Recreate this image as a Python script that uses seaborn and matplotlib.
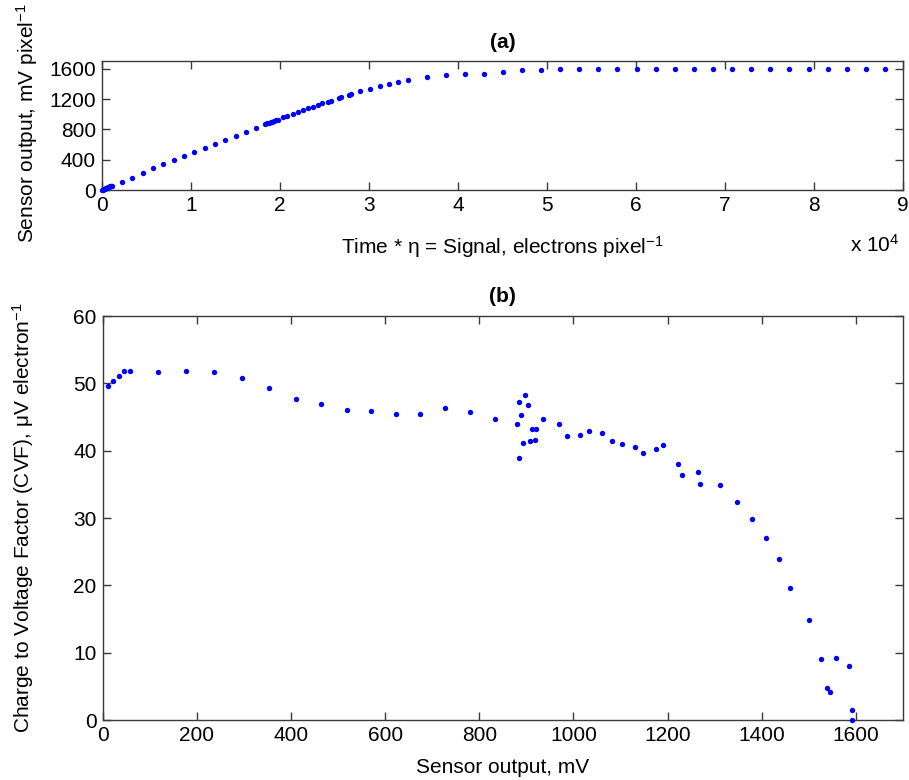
import numpy as np
import pandas as pd
import matplotlib
matplotlib.use("Agg")
import matplotlib.pyplot as plt
from matplotlib.ticker import FuncFormatter
import seaborn as sns

# ---- Panel (a): signal (electrons/pixel) vs sensor output (mV/pixel)
signal_e = [0, 100, 200, 300, 400, 500, 600, 700, 800, 900, 1000, 1100,
            2251, 3377, 4578, 5741, 6904, 8068, 9231, 10356, 11520, 12683,
            13846, 15009, 16173, 17336,
            18350, 18550, 18750, 18950, 19150, 19350, 19550, 19750,
            20375, 20826, 21501, 22026, 22589, 23152, 23677, 24278, 24728,
            25441, 25704, 26642, 26867, 27767, 27955, 28968, 30094, 31182,
            32195, 33283, 34334, 36473, 38649, 40788, 42927, 45079,
            47185, 49325, 51464, 53604, 55743, 57883, 60060, 62200, 64339,
            66479, 68618, 70796, 72935, 75075, 77215, 79392, 81531, 83671,
            85811, 87950]
output_mv = [0, 5, 10, 16, 20, 26, 31, 37, 42, 47, 52, 57,
             101, 163, 220, 287, 339, 397, 450, 507, 560, 613,
             666, 718, 771, 824,
             873, 881, 889, 896, 904, 911, 919, 926,
             961, 979, 1009, 1031, 1053, 1080, 1102, 1128, 1146,
             1168, 1181, 1217, 1225, 1261, 1265, 1305, 1340, 1375,
             1406, 1432, 1459, 1494, 1521, 1534, 1540, 1556,
             1582, 1592, 1596, 1596, 1596, 1596, 1596, 1596, 1596,
             1596, 1596, 1596, 1596, 1596, 1596, 1596, 1596, 1596,
             1596, 1596]

# ---- Panel (b): sensor output (mV) vs CVF (uV/electron)
sensor_mv = [10.6, 21.8, 33.9, 45.2, 57.9, 118, 177, 237, 296, 354, 410, 464,
             518, 570.5, 623.5, 674.4, 728, 781, 833.5,
             879.4, 884.4, 883.6, 889.3, 892.9, 897.8, 904.2, 908.4, 912,
             917.6, 921.2, 934.6, 968.5, 985.5, 1013.8, 1033.5, 1059.6,
             1082.9, 1103.5, 1131, 1147.4, 1175.6, 1189.8, 1222.3, 1230.7,
             1264.7, 1269.6, 1311, 1346.5, 1379, 1410, 1437, 1461, 1500,
             1525, 1557, 1585, 1539, 1545, 1592, 1592]
cvf_uv = [49.6, 50.3, 51.1, 51.9, 51.9, 51.75, 51.9, 51.7, 50.8, 49.3, 47.7,
          46.95, 46.1, 45.9, 45.4, 45.4, 46.3, 45.7, 44.7,
          44.0, 38.9, 47.3, 45.3, 41.2, 48.25, 46.8, 41.4, 43.2,
          41.6, 43.2, 44.7, 43.9, 42.2, 42.35, 42.9, 42.6,
          41.5, 41.06, 40.6, 39.6, 40.2, 40.8, 38.0, 36.45,
          36.9, 35.0, 34.96, 32.4, 29.9, 27.0, 23.9, 19.6, 14.9,
          9.06, 9.2, 8.0, 4.7, 4.1, 1.44, 0.0]

df_a = pd.DataFrame({"signal": signal_e, "output": output_mv})
df_b = pd.DataFrame({"sensor": sensor_mv, "cvf": cvf_uv})

sns.set_theme(style="ticks")
plt.rcParams["font.family"] = ["Liberation Sans", "DejaVu Sans"]
plt.rcParams["mathtext.fontset"] = "custom"
plt.rcParams["mathtext.rm"] = "Liberation Sans"
plt.rcParams["mathtext.it"] = "Liberation Sans:italic"
plt.rcParams["mathtext.default"] = "regular"
plt.rcParams["text.color"] = "black"
plt.rcParams["axes.labelcolor"] = "black"

FS = 15
edge = "#3a3a3a"
dot = (0, 0, 1)

fig = plt.figure(figsize=(9.09, 7.8), dpi=100)
ax1 = fig.add_axes([102 / 909, 1 - 190 / 780, 801 / 909, 128.6 / 780])
ax2 = fig.add_axes([102.7 / 909, 1 - 720 / 780, 800.3 / 909, 404 / 780])

sns.scatterplot(data=df_a, x="signal", y="output", ax=ax1, s=15, color=dot,
                linewidth=0, clip_on=False, zorder=3)
sns.scatterplot(data=df_b, x="sensor", y="cvf", ax=ax2, s=15, color=dot,
                linewidth=0, clip_on=False, zorder=3)

for ax in (ax1, ax2):
    for sp in ax.spines.values():
        sp.set_visible(True)
        sp.set_color(edge)
        sp.set_linewidth(1.0)
    ax.tick_params(direction="in", length=5.8, width=1.0, color=edge,
                   labelcolor="black", top=True, right=True,
                   labelsize=FS, pad=4.5)
    ax.grid(False)

ax1.set_xlim(0, 90000)
ax1.set_ylim(0, 1700)
ax1.set_xticks(np.arange(0, 90001, 10000))
ax1.xaxis.set_major_formatter(FuncFormatter(lambda v, p: f"{v / 1e4:g}"))
ax1.set_yticks([0, 400, 800, 1200, 1600])
ax1.set_xlabel("Time * \u03b7 = Signal, electrons pixel$^{-1}$", fontsize=FS)
ax1.set_ylabel("Sensor output, mV pixel$^{-1}$", fontsize=FS)
ax1.xaxis.set_label_coords(0.5, -0.34)
ax1.yaxis.set_label_coords(-0.077, 0.52)
ax1.set_title("(a)", fontsize=FS, fontweight="bold", pad=10)
ax1.text(0.934, -0.43, "x 10$^{4}$", transform=ax1.transAxes, fontsize=FS,
         ha="left", va="center")

ax2.set_xlim(0, 1700)
ax2.set_ylim(0, 60)
ax2.set_xticks(np.arange(0, 1601, 200))
ax2.set_yticks(np.arange(0, 61, 10))
ax2.set_xlabel("Sensor output, mV", fontsize=FS)
ax2.set_ylabel("Charge to Voltage Factor (CVF), \u03bcV electron$^{-1}$",
               fontsize=FS)
ax2.xaxis.set_label_coords(0.5, -0.095)
ax2.yaxis.set_label_coords(-0.083, 0.5)
ax2.set_title("(b)", fontsize=FS, fontweight="bold", pad=10)

fig.savefig("out.png", dpi=100, facecolor="white")
